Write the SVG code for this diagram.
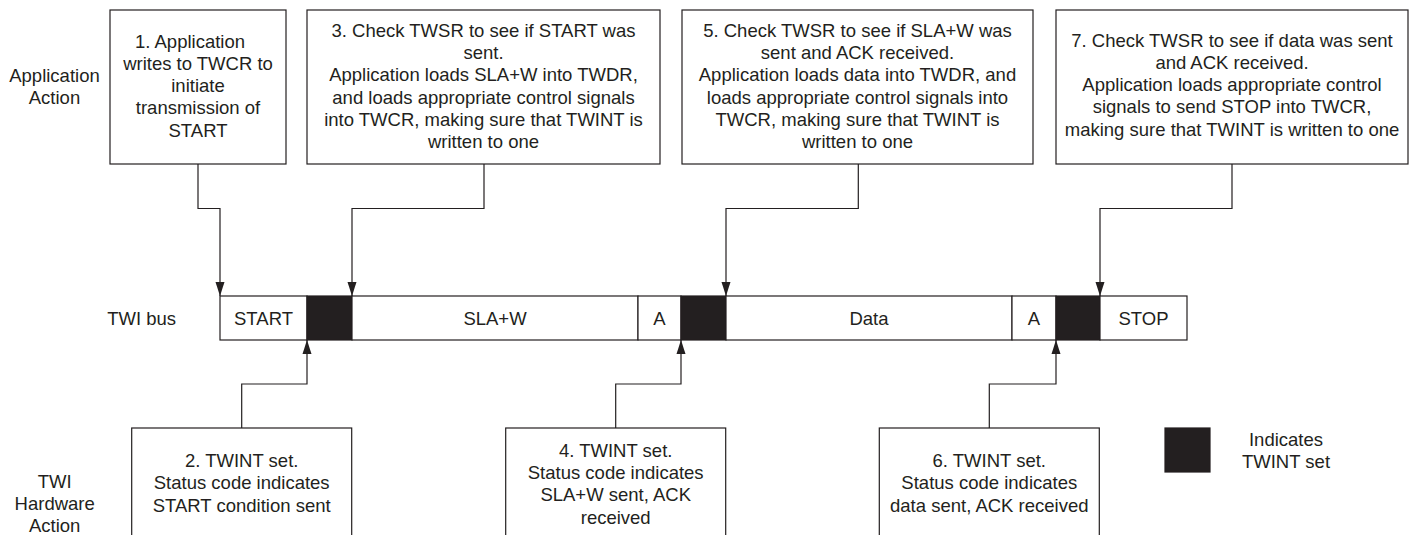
<svg xmlns="http://www.w3.org/2000/svg" width="1413" height="535" viewBox="0 0 1413 535">
<style>
text{font-family:"Liberation Sans",Arial,Helvetica,sans-serif;font-size:18.5px;fill:#231f20;text-anchor:middle}
.box{fill:#fff;stroke:#231f20;stroke-width:1.2}
.blk{fill:#231f20;stroke:#231f20;stroke-width:1.2}
.con{fill:none;stroke:#231f20;stroke-width:1.2}
</style>
<defs>
<marker id="arr" markerUnits="userSpaceOnUse" markerWidth="14" markerHeight="10" refX="14" refY="5" orient="auto">
<path d="M0,0.5 L14,5 L0,9.5 Z" fill="#231f20"/>
</marker>
</defs>
<rect width="1413" height="535" fill="#fff"/>

<g id="labels">
<text x="54.5"><tspan x="54.5" y="82">Application</tspan><tspan x="54.5" y="104.3">Action</tspan></text>
<text x="141.7" y="324.5">TWI bus</text>
<text x="54.7"><tspan x="54.7" y="488.3">TWI</tspan><tspan x="54.7" y="510.3">Hardware</tspan><tspan x="54.7" y="532">Action</tspan></text>
</g>

<g id="node1">
<rect class="box" x="110" y="10" width="176" height="154"/>
<text><tspan x="190" y="47.5">1. Application</tspan><tspan x="198" y="69.8">writes to TWCR to</tspan><tspan x="198" y="92.1">initiate</tspan><tspan x="198" y="114.4">transmission of</tspan><tspan x="198" y="136.7">START</tspan></text>
</g>

<g id="node3">
<rect class="box" x="307" y="10" width="353" height="154"/>
<text><tspan x="483.5" y="36.7">3. Check TWSR to see if START was</tspan><tspan x="483.5" y="59">sent.</tspan><tspan x="483.5" y="81.3">Application loads SLA+W into TWDR,</tspan><tspan x="483.5" y="103.6">and loads appropriate control signals</tspan><tspan x="483.5" y="125.9">into TWCR, making sure that TWINT is</tspan><tspan x="483.5" y="148.2">written to one</tspan></text>
</g>

<g id="node5">
<rect class="box" x="682" y="10" width="351" height="154"/>
<text><tspan x="857.5" y="36.7">5. Check TWSR to see if SLA+W was</tspan><tspan x="857.5" y="59">sent and ACK received.</tspan><tspan x="857.5" y="81.3">Application loads data into TWDR, and</tspan><tspan x="857.5" y="103.6">loads appropriate control signals into</tspan><tspan x="857.5" y="125.9">TWCR, making sure that TWINT is</tspan><tspan x="857.5" y="148.2">written to one</tspan></text>
</g>

<g id="node7">
<rect class="box" x="1056" y="10" width="352" height="154"/>
<text><tspan x="1232" y="46.5">7. Check TWSR to see if data was sent</tspan><tspan x="1232" y="68.8">and ACK received.</tspan><tspan x="1232" y="91.1">Application loads appropriate control</tspan><tspan x="1232" y="113.4">signals to send STOP into TWCR,</tspan><tspan x="1232" y="135.7">making sure that TWINT is written to one</tspan></text>
</g>

<g id="bus">
<rect class="box" x="220" y="296" width="87" height="44"/>
<rect class="blk" x="307" y="296" width="45" height="44"/>
<rect class="box" x="352" y="296" width="286" height="44"/>
<rect class="box" x="638" y="296" width="43" height="44"/>
<rect class="blk" x="681" y="296" width="45" height="44"/>
<rect class="box" x="726" y="296" width="286" height="44"/>
<rect class="box" x="1012" y="296" width="44" height="44"/>
<rect class="blk" x="1056" y="296" width="44" height="44"/>
<rect class="box" x="1100" y="296" width="87" height="44"/>
<text x="263.5" y="324.5">START</text>
<text x="495" y="324.5">SLA+W</text>
<text x="659.5" y="324.5">A</text>
<text x="869" y="324.5">Data</text>
<text x="1034" y="324.5">A</text>
<text x="1143.5" y="324.5">STOP</text>
</g>

<g id="node2">
<rect class="box" x="131.7" y="428" width="220" height="120"/>
<text><tspan x="241.7" y="467">2. TWINT set.</tspan><tspan x="241.7" y="489.3">Status code indicates</tspan><tspan x="241.7" y="511.6">START condition sent</tspan></text>
</g>

<g id="node4">
<rect class="box" x="505.7" y="428" width="220" height="120"/>
<text><tspan x="615.7" y="456.7">4. TWINT set.</tspan><tspan x="615.7" y="479">Status code indicates</tspan><tspan x="615.7" y="501.3">SLA+W sent, ACK</tspan><tspan x="615.7" y="523.6">received</tspan></text>
</g>

<g id="node6">
<rect class="box" x="879.3" y="428" width="220" height="120"/>
<text><tspan x="989.3" y="467">6. TWINT set.</tspan><tspan x="989.3" y="489.3">Status code indicates</tspan><tspan x="989.3" y="511.6">data sent, ACK received</tspan></text>
</g>

<g id="legend">
<rect class="blk" x="1165" y="428" width="45" height="44"/>
<text><tspan x="1286" y="446">Indicates</tspan><tspan x="1286" y="468">TWINT set</tspan></text>
</g>

<g id="connectors">
<path class="con" marker-end="url(#arr)" d="M198,164 V208.5 H220 V296"/>
<path class="con" marker-end="url(#arr)" d="M484,164 V208.5 H352 V296"/>
<path class="con" marker-end="url(#arr)" d="M858.3,164 V208.5 H726 V296"/>
<path class="con" marker-end="url(#arr)" d="M1232,164 V208.5 H1100 V296"/>
<path class="con" marker-end="url(#arr)" d="M241.7,428 V384 H307 V340"/>
<path class="con" marker-end="url(#arr)" d="M615.7,428 V384 H681 V340"/>
<path class="con" marker-end="url(#arr)" d="M989.3,428 V384 H1056 V340"/>
</g>
</svg>
